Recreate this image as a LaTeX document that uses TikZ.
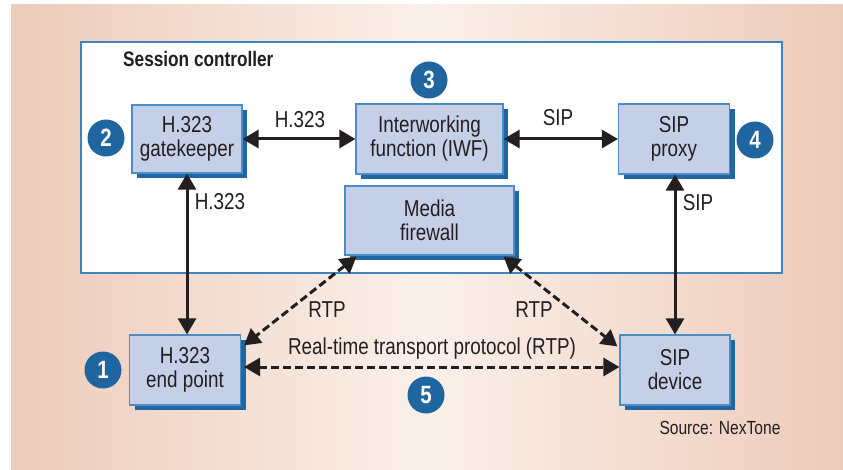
\documentclass[tikz,border=0pt]{standalone}
\usepackage{fontspec}
\setmainfont{Liberation Sans}[FakeStretch=0.82]
\usetikzlibrary{arrows.meta,calc}
\definecolor{bgsal}{HTML}{EDCBBA}
\definecolor{bglight}{HTML}{FAF0EA}
\definecolor{boxfill}{HTML}{C6CFE8}
\definecolor{boxdraw}{HTML}{4A8CC4}
\definecolor{shadowc}{HTML}{1F66A2}
\definecolor{circc}{HTML}{1F65A0}
\definecolor{txt}{HTML}{231F20}
\definecolor{scdraw}{HTML}{3D85C0}
\tikzset{
  comp/.style={draw=boxdraw, line width=1.2pt, fill=boxfill, align=center,
    text=txt, font=\fontsize{23}{24}\selectfont, inner sep=0pt,
    minimum height=70pt},
  numc/.style={circle, fill=circc, text=white, minimum size=37pt, inner sep=0pt,
    font=\fontsize{25}{25}\selectfont\bfseries},
  lab/.style={text=txt, font=\fontsize{23}{24}\selectfont, inner sep=0pt},
  conn/.style={line width=3pt, draw=txt,
    {Triangle[length=16pt,width=18pt]}-{Triangle[length=16pt,width=18pt]}},
  dconn/.style={conn, dash pattern=on 8pt off 4pt}
}
\newcommand{\compbox}[5]{%
  \fill[shadowc] (#2-#4/2+5,#3-#5/2+5) rectangle (#2+#4/2+5,#3+#5/2+5);
  \node[comp, minimum width=#4pt, minimum height=#5pt] (#1) at (#2,#3)}
\begin{document}
\begin{tikzpicture}[x=1pt,y=-1pt]
\useasboundingbox (0,0) rectangle (843,470);
\fill[white] (0,0) rectangle (843,470);
\shade[left color=bgsal, right color=bgsal, middle color=bglight] (11,5) rectangle (843,470);
% session controller
\draw[draw=scdraw, line width=1.3pt, fill=white] (81,42) rectangle (782,273);
\node[anchor=west, text=txt, font=\fontsize{21}{22}\selectfont\bfseries, inner sep=0pt] (sc) at (123,59) {Session controller};
% components
\compbox{gk}{187}{139}{110}{68} {H.323\\gatekeeper};
\compbox{iwf}{429.5}{139}{147}{70} {Interworking\\function (IWF)};
\compbox{fw}{429.5}{220.5}{169}{69} {Media\\firewall};
\compbox{proxy}{674}{139}{111}{70} {SIP\\proxy};
\compbox{ep}{185}{370}{111}{70} {H.323\\end point};
\compbox{dev}{675}{370}{110}{70} {SIP\\device};
% numbers
\node[numc] (n1) at (103,370) {1};
\node[numc] (n2) at (106,138) {2};
\node[numc] (n3) at (429,80) {3};
\node[numc] (n4) at (755,140) {4};
\node[numc] (n5) at (426,395) {5};
% connectors
\draw[conn] (gk.east) -- (iwf.west);
\draw[conn] (iwf.east) -- (proxy.west);
\draw[conn] (gk.south) -- (gk.south |- ep.north);
\draw[conn] (dev.north |- proxy.south) -- (dev.north);
\coordinate (fwl) at ($(fw.south west)+(12,1)$);
\coordinate (fwr) at ($(fw.south east)+(-11,1)$);
\coordinate (epr) at ($(ep.north east)+(3,11)$);
\coordinate (devl) at ($(dev.north west)+(-2,12)$);
\draw[dconn] (fwl) -- (epr);
\draw[dconn] (fwr) -- (devl);
\coordinate (epm) at ($(ep.east)+(3,-3)$);
\draw[dconn] (epm) -- (epm -| dev.west);
% labels
\node[lab] (l1) at (300,120) {H.323};
\node[lab] (l2) at (558,118) {SIP};
\node[lab] (l3) at (220,202) {H.323};
\node[lab] (l4) at (698,203) {SIP};
\node[lab] (l5) at (327,310) {RTP};
\node[lab] (l6) at (534,310) {RTP};
\node[lab] (l7) at (432,349) {Real-time transport protocol (RTP)};
\node[lab, font=\fontsize{19}{20}\selectfont] (l8) at (720,428) {Source: NexTone};
\end{tikzpicture}
\end{document}
